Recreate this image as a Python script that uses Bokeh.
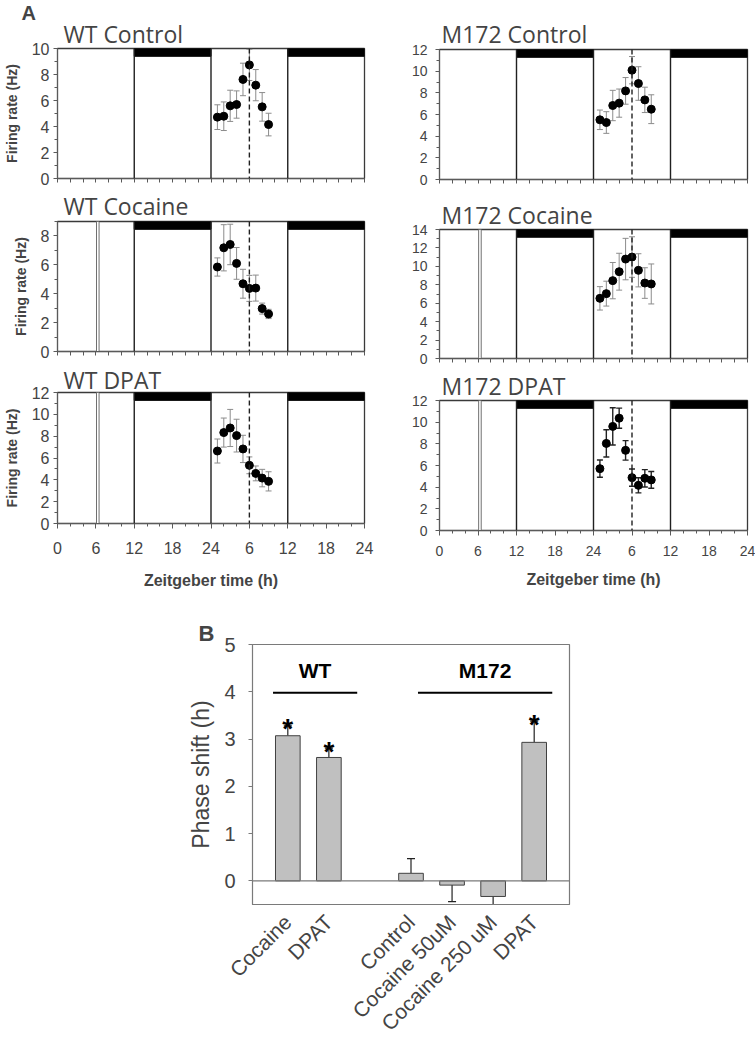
import numpy as np
from bokeh.plotting import figure
from bokeh.models import (ColumnDataSource, FixedTicker, Whisker, TeeHead, Title,
                          Span, Range1d)
from bokeh.layouts import column, row
from bokeh.embed import file_html
from bokeh.resources import INLINE
from bokeh.core.properties import value

# ---------------- data ----------------
ZT = [25, 26, 27, 28, 29, 30, 31, 32, 33]          # hours on the double-plotted axis

WT_CONTROL = [4.72, 4.79, 5.59, 5.69, 7.62, 8.74, 7.18, 5.51, 4.15]
WT_CONTROL_SEM = [0.95, 1.10, 1.20, 1.05, 1.25, 1.20, 1.20, 1.10, 0.87]
WT_COCAINE = [5.85, 7.18, 7.41, 6.10, 4.69, 4.37, 4.39, 2.97, 2.60]
WT_COCAINE_SEM = [0.63, 1.60, 1.40, 1.10, 1.00, 0.90, 0.90, 0.38, 0.32]
WT_DPAT = [6.64, 8.33, 8.75, 8.05, 6.83, 5.33, 4.59, 4.16, 3.86]
WT_DPAT_SEM = [1.10, 1.33, 1.70, 1.50, 1.25, 0.77, 0.68, 0.80, 0.88]

M172_CONTROL = [5.51, 5.26, 6.83, 7.05, 8.18, 10.09, 8.86, 7.35, 6.49]
M172_CONTROL_SEM = [0.90, 1.00, 1.40, 1.30, 1.23, 1.26, 1.55, 1.17, 1.33]
M172_COCAINE = [6.53, 7.04, 8.45, 9.42, 10.79, 11.01, 9.57, 8.19, 8.09]
M172_COCAINE_SEM = [1.27, 1.35, 1.97, 2.00, 2.25, 2.20, 1.80, 1.66, 2.17]
M172_DPAT = [5.71, 8.04, 9.61, 10.37, 7.40, 4.88, 4.17, 4.82, 4.67]
M172_DPAT_SEM = [0.80, 1.26, 1.72, 0.93, 0.90, 0.80, 0.70, 0.80, 0.77]

X_TICKS = [0, 6, 12, 18, 24, 30, 36, 42, 48]
X_TICK_LABELS = ["0", "6", "12", "18", "24", "6", "12", "18", "24"]
DARK_START = [12, 36]
DARK_END = [24, 48]
DAY_LINES = [12, 24, 36]
REF_TIME = 30            # ZT6 of the second day (dashed line)
DRUG_START, DRUG_END = 6.1, 6.5

B_GROUPS = ["WT", "WT", "M172", "M172", "M172", "M172"]
B_LABELS = ["Cocaine", "DPAT", "Control", "Cocaine 50uM", "Cocaine 250 uM", "DPAT"]
B_SHIFT = [3.07, 2.61, 0.16, -0.09, -0.33, 2.93]
B_SEM = [0.21, 0.20, 0.31, 0.35, 0.30, 0.45]
B_SIG = [True, True, False, False, False, True]

AX_FONT = "Liberation Sans"
TITLE_FONT = "Open Sans"
GREY = "#5a5a5a"


def style_title(t, left, standoff):
    t.text_font = TITLE_FONT
    t.text_font_size = "23px"
    t.text_font_style = "normal"
    t.align = "left"
    t.offset = 6 if left else 2
    t.standoff = standoff


def panel(title, vals, sems, ymax, left, drug, bottom, dims, tstand=-1,
          err_color="#8c8c8c", err_w=1.0, letter=None):
    w, h, bl, br, bt, bb = dims
    p = figure(width=w, height=h, x_range=Range1d(0, 48), y_range=Range1d(0, ymax),
               output_backend="svg", toolbar_location=None,
               min_border_left=bl, min_border_right=br, min_border_top=bt, min_border_bottom=bb,
               title=letter if letter else title)
    if letter:
        # panel letter is the outer title, the panel name is stacked closer to the frame
        p.title.align = "left"
        p.title.offset = -36
        p.title.standoff = -13
        p.title.text_font = AX_FONT
        p.title.text_font_size = "20px"
        p.title.text_font_style = "bold"
        t = Title(text=title)
        style_title(t, left, tstand)
        p.add_layout(t, "above")
    else:
        style_title(p.title, left, tstand)
    p.grid.visible = False
    p.outline_line_color = "#3a3a3a"
    p.outline_line_width = 1.3
    p.background_fill_color = "white"

    # dark phase bars at the top
    bh = ymax * 0.06
    p.quad(left=DARK_START, right=DARK_END, top=[ymax] * 2, bottom=[ymax - bh] * 2,
           fill_color="black", line_color="black")
    for xl in DAY_LINES:
        p.add_layout(Span(location=xl, dimension="height", line_color="#202020", line_width=1.4))
    p.add_layout(Span(location=REF_TIME, dimension="height", line_color="#202020",
                      line_width=1.4, line_dash="5 3"))
    if drug:
        p.quad(left=[DRUG_START], right=[DRUG_END], top=[ymax], bottom=[0],
               fill_color="white", line_color="#707070", line_width=1)

    v = np.array(vals)
    s = np.array(sems)
    src = ColumnDataSource(dict(x=ZT, y=v, lo=v - s, hi=v + s))
    p.add_layout(Whisker(source=src, base="x", upper="hi", lower="lo",
                         line_color=err_color, line_width=err_w,
                         upper_head=TeeHead(size=6, line_color=err_color, line_width=err_w),
                         lower_head=TeeHead(size=6, line_color=err_color, line_width=err_w)))
    p.scatter("x", "y", source=src, size=8, fill_color="black", line_color="black")

    # axes
    for ax in (p.xaxis[0], p.yaxis[0]):
        ax.axis_line_color = GREY
        ax.major_tick_line_color = GREY
        ax.minor_tick_line_color = GREY
        ax.major_tick_in = 0
        ax.minor_tick_in = 0
        ax.major_tick_out = 4
        ax.minor_tick_out = 3
        ax.major_label_text_font = AX_FONT
        ax.axis_label_text_font = AX_FONT
    xa = p.xaxis[0]
    if bottom:
        xa.ticker = FixedTicker(ticks=X_TICKS, minor_ticks=list(range(0, 49, 2)))
        xa.major_label_overrides = {t: l for t, l in zip(X_TICKS, X_TICK_LABELS)}
        xa.major_label_text_font_size = "16px" if left else "14px"
        xa.major_label_standoff = 13 if left else 10
        xa.axis_label = "Zeitgeber time (h)"
        xa.axis_label_text_font_size = "16px"
        xa.axis_label_text_font_style = "bold"
        xa.axis_label_standoff = 15 if left else 12
        xa.major_tick_out = 5
    else:
        xa.ticker = FixedTicker(ticks=[], minor_ticks=list(range(0, 49, 2)))
        xa.minor_tick_out = 4
    ya = p.yaxis[0]
    ya.ticker = FixedTicker(ticks=list(range(0, ymax + 1, 2)), minor_ticks=list(range(0, ymax + 1)))
    ya.major_label_text_font_size = "16px" if left else "14px"
    ya.major_label_standoff = 4 if left else 8
    if left:
        ya.axis_label = "Firing rate (Hz)"
        ya.axis_label_text_font_size = "14px"
        ya.axis_label_text_font_style = "bold"
        ya.axis_label_standoff = 9
    return p


LW, RW = 400, 355
l1 = panel("WT Control", WT_CONTROL, WT_CONTROL_SEM, 10, True, False, False, (LW, 187, 53, 36, 48, 9),
           tstand=-3, letter="A")
l2 = panel("WT Cocaine", WT_COCAINE, WT_COCAINE_SEM, 9, True, True, False, (LW, 173, 53, 36, 34, 9),
           tstand=0)
l3 = panel("WT DPAT", WT_DPAT, WT_DPAT_SEM, 12, True, True, True, (LW, 233, 53, 36, 32, 70),
           tstand=-7)
r1 = panel("M172 Control", M172_CONTROL, M172_CONTROL_SEM, 12, False, False, False, (RW, 189, 39, 8, 49, 10),
           tstand=-1)
r2 = panel("M172 Cocaine", M172_COCAINE, M172_COCAINE_SEM, 14, False, True, False, (RW, 177, 39, 8, 40, 8),
           tstand=-2)
r3 = panel("M172 DPAT", M172_DPAT, M172_DPAT_SEM, 12, False, True, True, (RW, 227, 39, 8, 34, 63),
           tstand=-3, err_color="#222222", err_w=1.4)

# ---------------- panel B ----------------
pos = []
k = 0
prev = None
for g in B_GROUPS:
    k += 1
    if prev is not None and g != prev:
        k += 1
    pos.append(k)
    prev = g
pos = np.array(pos, dtype=float)
shift = np.array(B_SHIFT)
sem = np.array(B_SEM)
ends = shift + np.sign(shift) * sem

pb = figure(width=755, height=456, x_range=Range1d(0.14, 7.86), y_range=Range1d(-0.5, 5),
            output_backend="svg", toolbar_location=None, title="B",
            min_border_left=252, min_border_right=186, min_border_top=51, min_border_bottom=145)
pb.title.align = "left"
pb.title.offset = -54
pb.title.standoff = -3
pb.title.text_font = AX_FONT
pb.title.text_font_size = "22px"
pb.title.text_font_style = "bold"
pb.grid.visible = False
pb.outline_line_color = "#7a7a7a"
pb.outline_line_width = 1.2
pb.add_layout(Span(location=0, dimension="width", line_color="#7a7a7a", line_width=1.2))
pb.segment(x0=pos, y0=shift, x1=pos, y1=ends, line_color="#222222", line_width=1.2)
pb.scatter(x=pos, y=ends, marker="dash", size=8, line_color="#222222", line_width=1.2)
pb.vbar(x=pos, top=shift, bottom=0, width=0.6, fill_color="#c0c0c0", line_color="#404040",
        line_width=1)
sig = np.array(B_SIG)
pb.text(x=pos[sig], y=ends[sig], text=["*"] * int(sig.sum()), text_align="center",
        text_baseline="alphabetic", y_offset=3, text_font=value(AX_FONT),
        text_font_size="28px", text_font_style="bold", text_color="black")

GROUP_SPANS = {"WT": (0.64, 2.69), "M172": (4.17, 7.44)}
GROUP_LINE_Y = 3.98
for g, (a, b) in GROUP_SPANS.items():
    pb.segment(x0=[a], y0=[GROUP_LINE_Y], x1=[b], y1=[GROUP_LINE_Y], line_color="black", line_width=2)
    pb.text(x=[(a + b) / 2], y=[GROUP_LINE_Y], text=[g], text_align="center",
            text_baseline="bottom", y_offset=-11, text_font=value(AX_FONT),
            text_font_size="21px", text_font_style="bold", text_color="black")

ya = pb.yaxis[0]
ya.ticker = FixedTicker(ticks=[0, 1, 2, 3, 4, 5])
ya.axis_line_color = "#7a7a7a"
ya.major_tick_line_color = "#7a7a7a"
ya.major_tick_in = 0
ya.major_tick_out = 4
ya.minor_tick_line_color = None
ya.major_label_standoff = 13
ya.major_label_text_font = AX_FONT
ya.major_label_text_font_size = "20px"
ya.axis_label = "Phase shift (h)"
ya.axis_label_text_font = AX_FONT
ya.axis_label_text_font_size = "23px"
ya.axis_label_text_font_style = "normal"
ya.axis_label_standoff = 7

xa = pb.xaxis[0]
xa.ticker = FixedTicker(ticks=list(pos))
xa.major_label_overrides = {float(p_): l for p_, l in zip(pos, B_LABELS)}
xa.major_label_orientation = np.pi / 4
xa.major_label_text_font = AX_FONT
xa.major_label_text_font_size = "21px"
xa.major_label_standoff = 8
xa.axis_line_color = "#7a7a7a"
xa.major_tick_line_color = None
xa.minor_tick_line_color = None

layout = column(row(column(l1, l2, l3), column(r1, r2, r3)), pb)
open("out.html", "w").write(file_html(layout, INLINE))
